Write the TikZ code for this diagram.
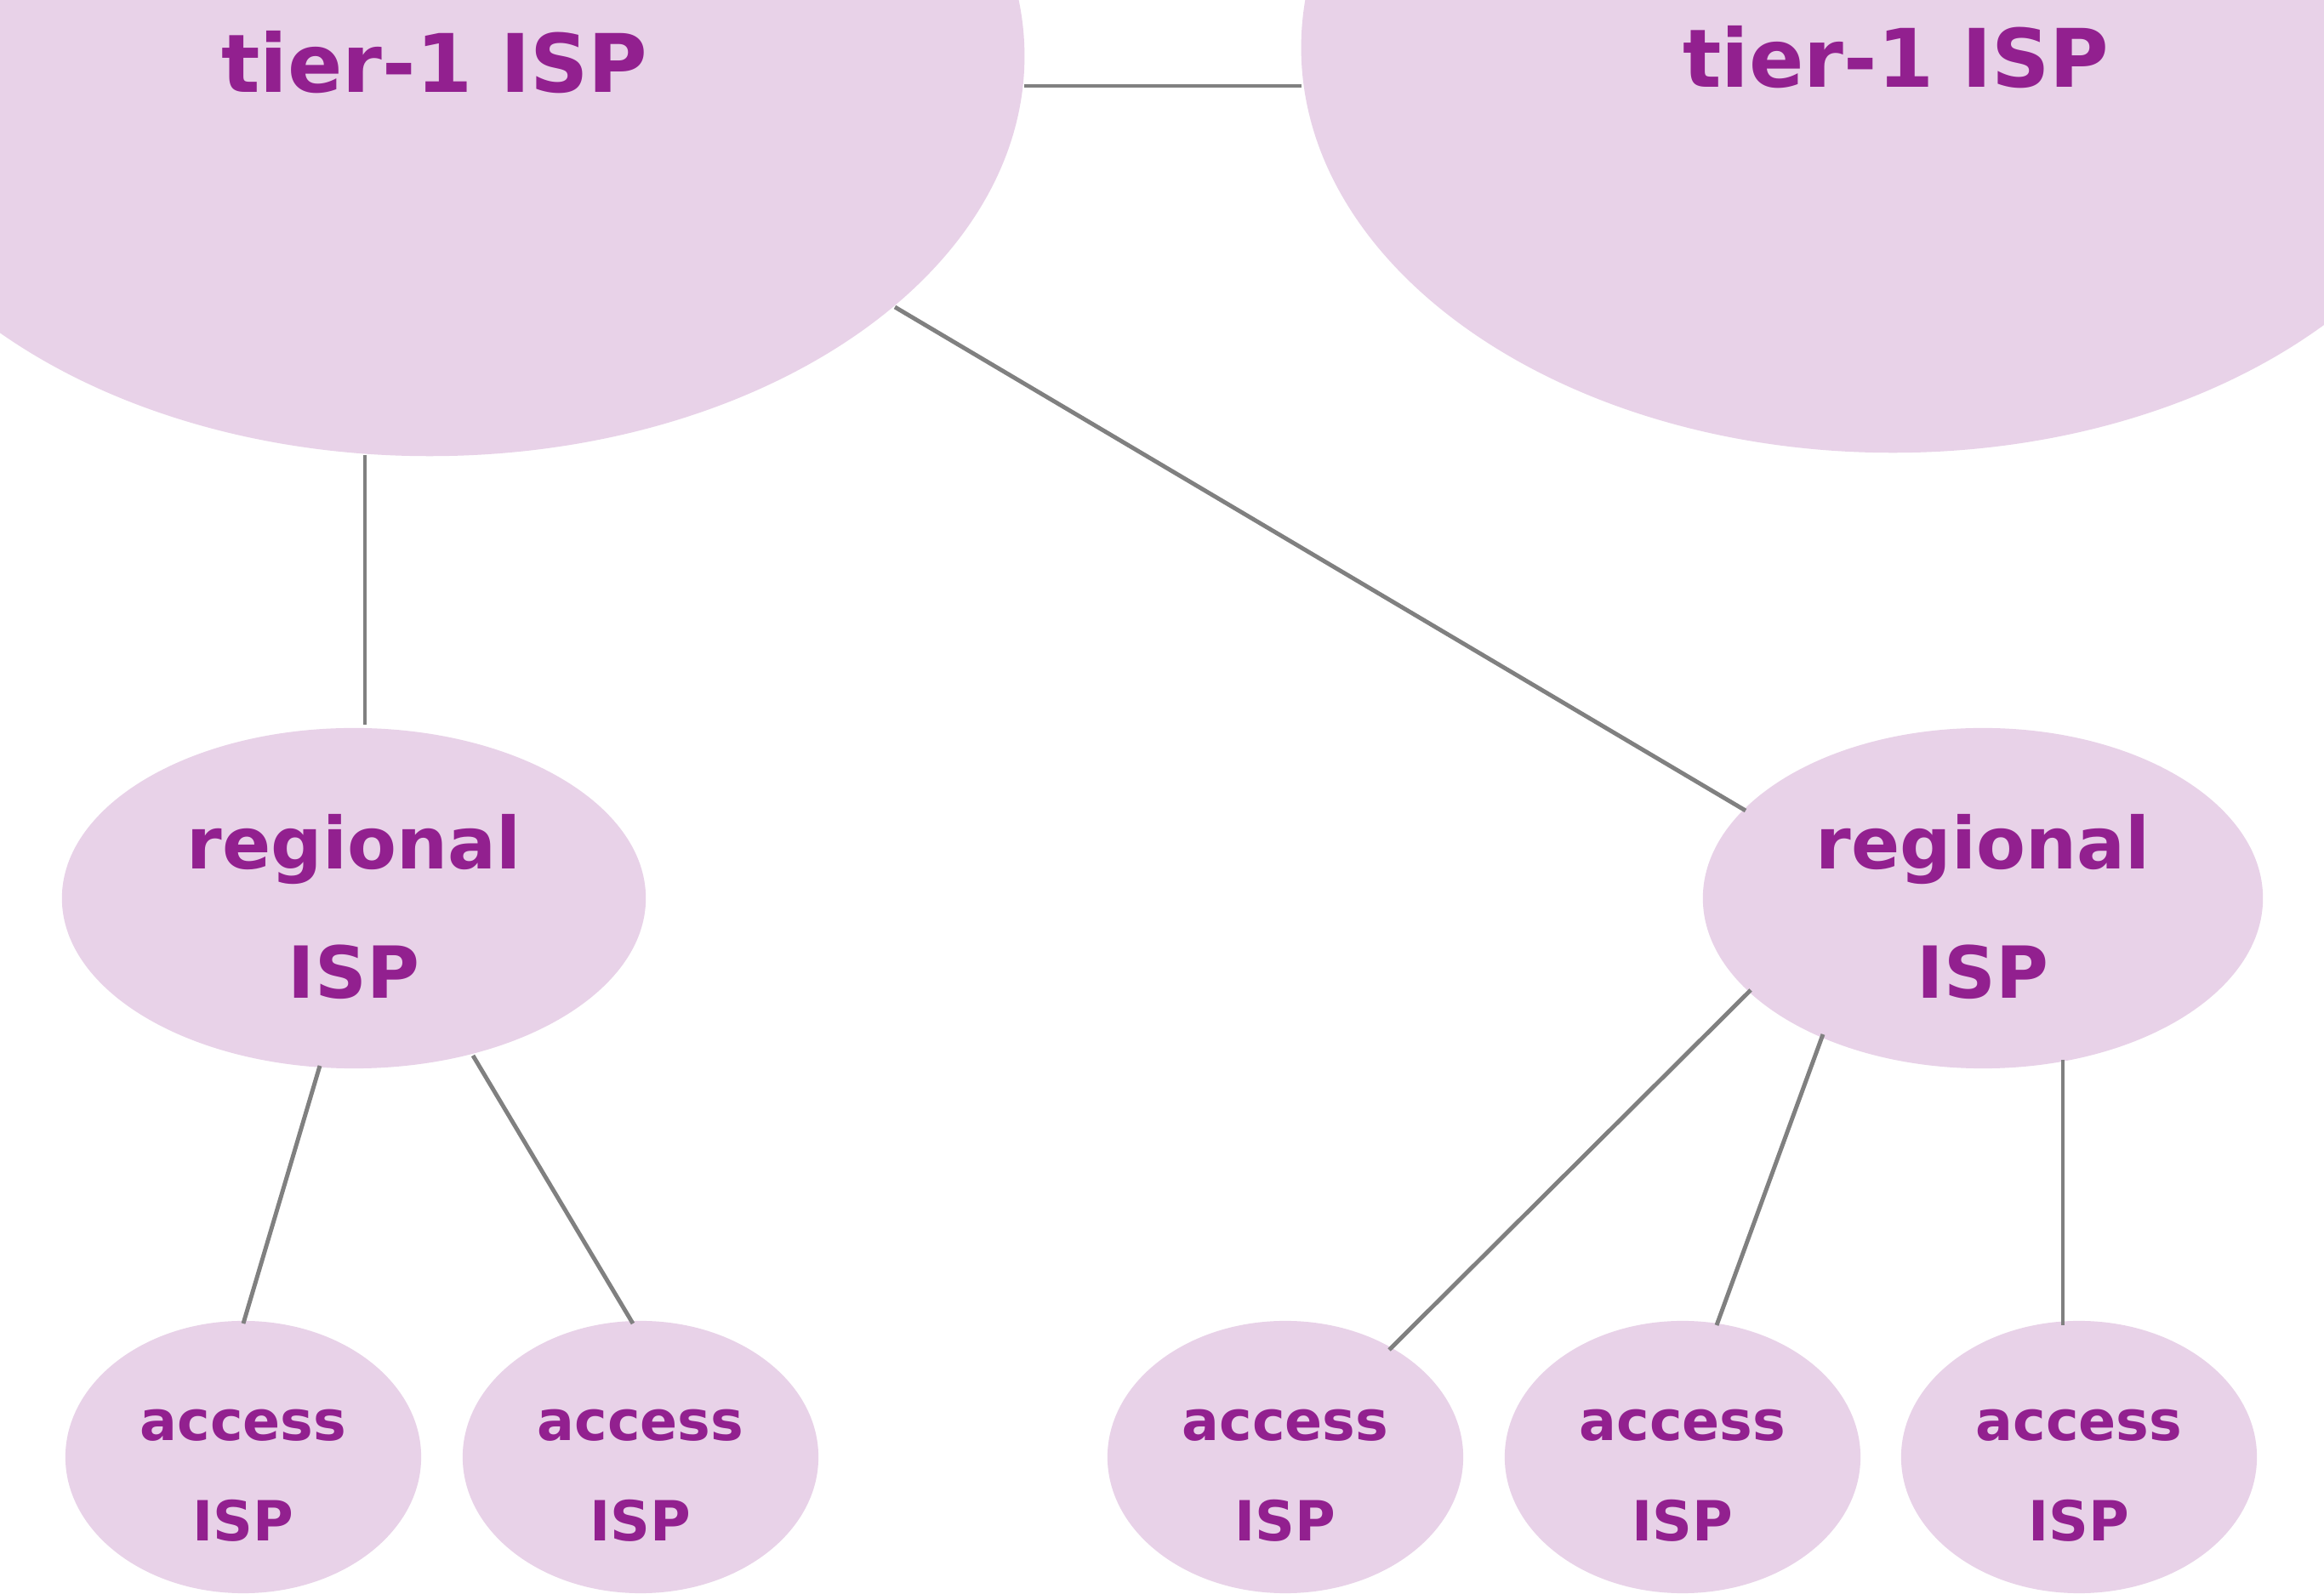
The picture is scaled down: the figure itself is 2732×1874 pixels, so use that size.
\documentclass[tikz,border=0pt]{standalone}
\usepackage{fontspec}
\setmainfont{DejaVu Sans}
\usetikzlibrary{shapes.geometric,calc}
\definecolor{ispfill}{HTML}{E8D2E8}
\definecolor{isptext}{HTML}{92208F}
\definecolor{linkgray}{HTML}{808080}
\begin{document}
\begin{tikzpicture}[x=0.01cm,y=-0.01cm,
  isp/.style={ellipse,fill=ispfill,draw=none,inner sep=0pt,outer sep=0pt},
  tierone/.style={isp,minimum width=13.98cm,minimum height=9.40cm},
  regional/.style={isp,minimum width=#1,minimum height=4.00cm},
  accessisp/.style={isp,minimum width=4.18cm,minimum height=3.20cm},
  tiertext/.style={text=isptext,inner sep=0pt,font=\bfseries\fontsize{27}{30}\selectfont},
  regtext/.style={text=isptext,inner sep=0pt,align=center,font=\bfseries\fontsize{24}{43}\selectfont},
  acctext/.style={text=isptext,inner sep=0pt,align=center,font=\bfseries\fontsize{18.5}{33.5}\selectfont},
  link/.style={draw=linkgray,line width=1.4pt}]
\clip (0,0) rectangle (2732,1874);
\fill[white] (0,0) rectangle (2732,1874);
% tier-1
\node[tierone] (tl) at (505,66) {};
\node[tiertext] (tlt) at (511,73) {tier-1 ISP};
\node[tierone,minimum width=13.90cm,minimum height=9.52cm] (tr) at (2225,56) {};
\node[tiertext] (trt) at (2229,67) {tier-1 ISP};
% regional
\node[regional=6.86cm] (rl) at (416,1056) {};
\node[regtext] (rlt) at ($(rl.center)+(0,10)$) {regional\\ISP};
\node[regional=6.58cm] (rr) at (2331,1056) {};
\node[regtext] (rrt) at ($(rr.center)+(0,10)$) {regional\\ISP};
% access
\foreach \n/\x in {a1/286,a2/753,a3/1511,a4/1978,a5/2444}{
  \node[accessisp] (\n) at (\x,1713) {};
  \node[acctext] (\n t) at ($(\n.center)+(0,22)$) {access\\ISP};
}
% links
\draw[link] ($(tl.center)+(699,35)$) -- ($(tr.center)+(-695,45)$);
\draw[link] ($(tl.center)+(-76,469)$) -- ($(rl.center)+(13,-204)$);
\draw[link] ($(tl.center)+(547,295)$) -- ($(rr.center)+(-279,-103)$);
\draw[link] ($(rl.center)+(-40,197)$) -- ($(a1.center)+(0,-157)$);
\draw[link] ($(rl.center)+(140,185)$) -- ($(a2.center)+(-9,-157)$);
\draw[link] ($(rr.center)+(-273,108)$) -- ($(a3.center)+(122,-126)$);
\draw[link] ($(rr.center)+(-188,160)$) -- ($(a4.center)+(40,-155)$);
\draw[link] ($(rr.center)+(94,190)$) -- ($(a5.center)+(-19,-155)$);
\end{tikzpicture}
\end{document}
